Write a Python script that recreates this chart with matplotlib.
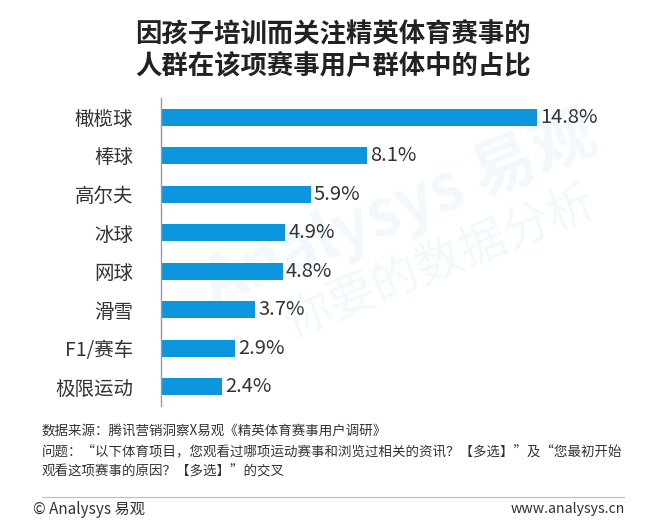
import numpy as np
import matplotlib.pyplot as plt
from matplotlib.lines import Line2D

plt.rcParams['font.family'] = ['Noto Sans CJK SC', 'DejaVu Sans']

# data
sports = ['橄榄球', '棒球', '高尔夫', '冰球', '网球', '滑雪', 'F1/赛车', '极限运动']
share = [14.8, 8.1, 5.9, 4.9, 4.8, 3.7, 2.9, 2.4]
labels = ['%.1f%%' % v for v in share]

title = '因孩子培训而关注精英体育赛事的\n人群在该项赛事用户群体中的占比'
notes = ['数据来源：腾讯营销洞察X易观《精英体育赛事用户调研》',
         '问题：“以下体育项目，您观看过哪项运动赛事和浏览过相关的资讯？【多选】”及“您最初开始',
         '观看这项赛事的原因？【多选】”的交叉']

W, H = 666, 526
fig = plt.figure(figsize=(W / 100, H / 100), dpi=100)

# faint watermark
fig.text(0.6, 0.6, 'Analysys 易观', fontsize=46, color='#0F93DB', alpha=0.06,
         rotation=22, ha='center', va='center', weight='bold')
fig.text(0.66, 0.5, '你要的数据分析', fontsize=34, color='#0F93DB', alpha=0.06,
         rotation=22, ha='center', va='center')

x0 = 161
ax = fig.add_axes([x0 / W, 1 - 406 / H, (624 - x0) / W, (406 - 98) / H])
ax.patch.set_alpha(0)
y = np.arange(len(sports))
ax.barh(y, share, height=0.45, color='#0C96DE')
ax.set_ylim(len(sports) - 0.5, -0.5)
ax.set_xlim(0, (624 - x0) / 25.4)
ax.set_yticks(y)
ax.set_yticklabels(sports, fontsize=14, color='#333333')
ax.tick_params(axis='y', length=0, pad=20)
ax.set_xticks([])
for s in ['top', 'right', 'bottom']:
    ax.spines[s].set_visible(False)
ax.spines['left'].set_color('#999999')
ax.spines['left'].set_linewidth(1)
for yi, v, lab in zip(y, share, labels):
    ax.text(v + 0.12, yi, lab, va='center', ha='left', fontsize=14.5, color='#333333')

fig.text(0.5, 1 - 51 / H, title, ha='center', va='center', fontsize=19,
         weight='bold', color='#222222', linespacing=1.2)

for i, n in enumerate(notes):
    fig.text(42 / W, 1 - (431 + 20 * i) / H, n, ha='left', va='center',
             fontsize=9.7, color='#333333')

fig.add_artist(Line2D([42 / W, 624 / W], [1 - 497 / H, 1 - 497 / H],
                      color='#bbbbbb', lw=0.8))
fig.text(33 / W, 1 - 509 / H, '© Analysys 易观', ha='left', va='center',
         fontsize=11, color='#333333')
fig.text(625 / W, 1 - 509 / H, 'www.analysys.cn', ha='right', va='center',
         fontsize=10.2, color='#333333')

fig.savefig('out.png', dpi=100)
